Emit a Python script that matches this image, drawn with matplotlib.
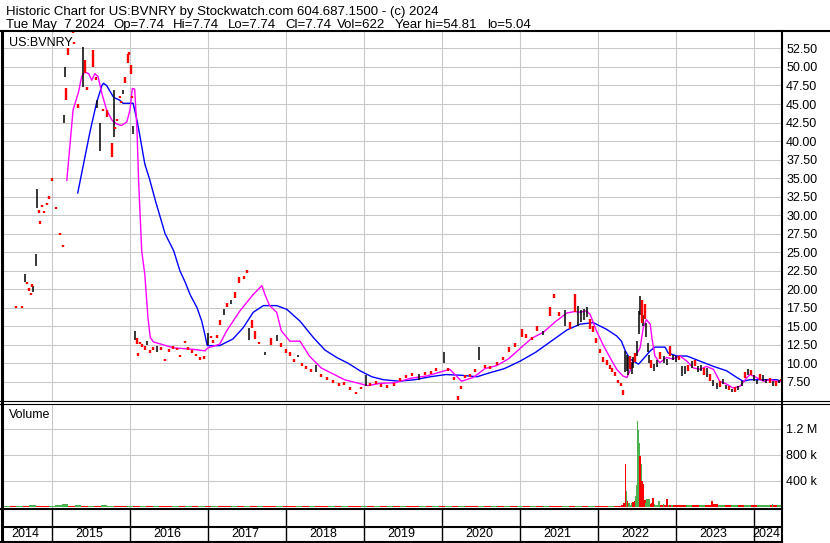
import matplotlib
matplotlib.use("Agg")
import matplotlib.pyplot as plt
from matplotlib.lines import Line2D

plt.rcParams["font.family"] = ["Liberation Sans", "DejaVu Sans"]

# ---- header text ----
title_line1 = "Historic Chart for US:BVNRY by Stockwatch.com 604.687.1500 - (c) 2024"
title_fields = ["Tue May  7 2024", "Op=7.74", "Hi=7.74", "Lo=7.74", "Cl=7.74", "Vol=622",
                "Year hi=54.81", "lo=5.04"]
title_field_px = [6, 113, 173, 228, 285, 337, 395, 487]
symbol = "US:BVNRY"

years = [2014, 2015, 2016, 2017, 2018, 2019, 2020, 2021, 2022, 2023, 2024]
x_start, x_end = 2014.359, 2024.359

price_ticks = [7.5, 10, 12.5, 15, 17.5, 20, 22.5, 25, 27.5, 30, 32.5, 35, 37.5,
               40, 42.5, 45, 47.5, 50, 52.5]
vol_ticks = [400e3, 800e3, 1.2e6]
vol_tick_labels = ["400 k", "800 k", "1.2 M"]

# ---- daily price bars (date, low, high, r = down / k = up) ----
bar_year = [2014.54, 2014.62, 2014.65, 2014.68, 2014.70, 2014.73, 2014.75, 2014.76, 2014.79, 2014.81,
            2014.83, 2014.85, 2014.87, 2014.90, 2014.93, 2014.96,
            2015.00, 2015.05, 2015.10, 2015.14, 2015.16, 2015.17, 2015.18, 2015.21, 2015.27, 2015.28,
            2015.33, 2015.40, 2015.42, 2015.45, 2015.53, 2015.57, 2015.58, 2015.62, 2015.66, 2015.70,
            2015.77, 2015.79, 2015.81, 2015.83, 2015.87, 2015.89, 2015.91, 2015.94, 2015.98, 2015.99,
            2016.01, 2016.02, 2016.04,
            2016.06, 2016.09, 2016.10, 2016.13, 2016.16, 2016.19, 2016.22, 2016.26, 2016.30, 2016.35,
            2016.40, 2016.45, 2016.50, 2016.55, 2016.60, 2016.64, 2016.70, 2016.74, 2016.80, 2016.85,
            2016.90, 2016.95,
            2017.00, 2017.04, 2017.07, 2017.11, 2017.16, 2017.20, 2017.25, 2017.30, 2017.35, 2017.40,
            2017.46, 2017.50, 2017.53, 2017.56, 2017.60, 2017.66, 2017.73, 2017.81, 2017.88, 2017.94,
            2018.00, 2018.05, 2018.10, 2018.15, 2018.20, 2018.26, 2018.32, 2018.38, 2018.45, 2018.52,
            2018.60, 2018.68, 2018.75, 2018.82, 2018.90, 2018.96,
            2019.02, 2019.08, 2019.15, 2019.22, 2019.30, 2019.38, 2019.46, 2019.54, 2019.62, 2019.70,
            2019.78, 2019.86, 2019.92,
            2020.03, 2020.08, 2020.15, 2020.20, 2020.24, 2020.30, 2020.36, 2020.42, 2020.48, 2020.55,
            2020.62, 2020.70, 2020.78, 2020.86, 2020.94,
            2021.02, 2021.08, 2021.15, 2021.22, 2021.30, 2021.38, 2021.44, 2021.50, 2021.58, 2021.64,
            2021.70, 2021.74, 2021.78, 2021.82, 2021.86, 2021.90, 2021.94, 2021.98,
            2022.03, 2022.07, 2022.11, 2022.15, 2022.18, 2022.22, 2022.26, 2022.29, 2022.32,
            2022.35, 2022.37, 2022.39, 2022.41, 2022.43, 2022.45, 2022.47, 2022.50, 2022.52, 2022.54,
            2022.56, 2022.58, 2022.60, 2022.62, 2022.64, 2022.66, 2022.68, 2022.72, 2022.76, 2022.80,
            2022.84, 2022.88, 2022.92, 2022.96,
            2023.00, 2023.04, 2023.08, 2023.12, 2023.16, 2023.20, 2023.24, 2023.28, 2023.32, 2023.36,
            2023.40, 2023.44, 2023.48, 2023.52, 2023.56, 2023.60, 2023.64, 2023.68, 2023.72, 2023.76,
            2023.80, 2023.84, 2023.88, 2023.92, 2023.96,
            2024.00, 2024.04, 2024.08, 2024.12, 2024.16, 2024.20, 2024.24, 2024.28, 2024.32, 2024.35]
bar_low = [17.6, 17.6, 21.0, 20.8, 19.8, 19.4, 20.5, 19.6, 23.2, 31.0,
           30.5, 29.0, 31.2, 30.4, 31.5, 32.4,
           34.8, 31.0, 27.5, 25.8, 42.4, 48.7, 45.5, 51.6, 54.7, 53.2,
           44.5, 47.3, 49.2, 46.9, 50.0, 48.2, 44.5, 38.7, 44.2, 43.2,
           37.8, 40.5, 41.8, 42.8, 45.9, 45.3, 46.4, 47.9, 50.5, 51.8,
           49.1, 45.9, 41.0,
           13.2, 12.6, 11.2, 12.8, 12.2, 11.8, 12.5, 11.4, 12.0, 11.6,
           11.8, 10.5, 11.5, 12.0, 11.8, 11.0, 12.9, 11.8, 11.6, 11.0,
           10.4, 10.6,
           12.5, 13.6, 12.8, 13.4, 15.2, 16.6, 17.6, 18.0, 18.8, 20.8,
           21.4, 22.3, 13.2, 14.8, 13.3, 12.6, 11.2, 12.5, 13.0, 12.2,
           11.4, 11.0, 10.2, 10.8, 9.6, 9.2, 8.8, 8.8, 8.2, 7.8,
           7.4, 7.0, 7.2, 6.4, 5.9, 6.6,
           6.9, 7.0, 7.2, 6.8, 6.8, 7.0, 7.6, 8.0, 8.4, 7.8,
           8.4, 8.6, 9.0,
           10.0, 9.0, 7.8, 5.1, 6.6, 8.0, 8.2, 8.8, 10.4, 9.4,
           9.2, 9.8, 10.4, 11.6, 12.2,
           13.6, 13.4, 13.2, 14.4, 13.8, 16.4, 18.8, 16.4, 15.0, 14.6,
           17.0, 15.0, 15.6, 15.8, 16.2, 14.6, 14.2, 12.8,
           11.4, 10.2, 9.8, 9.2, 8.8, 8.3, 7.4, 7.0, 5.8,
           8.8, 9.0, 8.5, 9.2, 8.6, 9.4, 10.2, 11.0, 14.0, 16.5,
           15.5, 15.0, 16.0, 13.5, 11.5, 10.0, 9.4, 9.0, 9.5, 10.6,
           10.0, 9.8, 11.0, 10.4,
           10.2, 10.4, 8.3, 8.6, 9.0, 9.4, 9.6, 8.8, 9.0, 8.5,
           8.2, 7.6, 7.0, 6.6, 6.8, 7.2, 6.5, 6.4, 6.1, 6.2,
           6.4, 7.0, 8.0, 8.5, 8.4,
           7.6, 7.2, 7.8, 7.6, 7.3, 7.4, 7.0, 7.0, 7.4, 7.7]
bar_high = [17.6, 17.6, 22.0, 20.8, 20.2, 19.4, 20.5, 20.4, 24.8, 33.6,
            30.5, 29.0, 31.2, 30.4, 31.5, 32.4,
            34.8, 31.0, 27.5, 25.8, 43.5, 50.0, 47.1, 52.5, 54.7, 53.2,
            45.0, 52.7, 50.9, 47.3, 52.3, 48.6, 45.5, 42.4, 44.2, 44.2,
            39.7, 46.9, 41.8, 42.8, 45.9, 45.3, 46.9, 48.6, 51.8, 51.8,
            50.2, 45.9, 42.1,
            14.4, 13.4, 11.2, 12.8, 12.6, 12.3, 13.0, 11.8, 12.0, 12.4,
            12.2, 10.5, 11.9, 12.4, 12.0, 11.0, 12.9, 12.2, 11.6, 11.2,
            10.8, 11.0,
            14.1, 13.6, 13.2, 13.9, 15.9, 17.3, 18.2, 18.6, 19.6, 21.6,
            21.8, 22.5, 14.8, 15.8, 14.4, 12.9, 11.6, 13.4, 13.8, 12.8,
            12.0, 11.6, 10.6, 11.2, 10.0, 9.6, 9.2, 9.8, 8.6, 8.2,
            7.8, 7.4, 7.4, 6.8, 6.2, 6.8,
            8.4, 7.4, 7.6, 7.2, 7.0, 7.4, 8.0, 8.4, 8.6, 8.6,
            8.8, 9.0, 9.4,
            11.6, 9.4, 8.2, 5.6, 7.0, 8.4, 8.6, 9.2, 12.2, 9.8,
            9.6, 10.2, 10.8, 12.2, 12.8,
            14.6, 14.0, 13.6, 15.0, 14.4, 17.6, 19.4, 17.0, 17.2, 15.6,
            19.3, 17.8, 17.2, 17.4, 17.6, 16.0, 15.0, 13.4,
            12.0, 10.8, 10.4, 9.8, 9.4, 8.8, 7.8, 7.4, 6.4,
            11.7, 11.2, 10.8, 11.0, 10.2, 10.8, 11.4, 13.0, 17.1, 19.1,
            18.5, 16.6, 18.0, 15.5, 12.8, 11.2, 10.4, 9.9, 10.4, 11.6,
            11.0, 10.6, 12.4, 11.2,
            11.0, 11.0, 9.6, 9.6, 9.8, 10.3, 10.4, 9.6, 9.8, 9.4,
            9.4, 8.6, 7.8, 7.4, 7.6, 7.9, 7.1, 7.0, 6.6, 6.8,
            7.0, 7.6, 8.8, 9.2, 9.1,
            8.4, 7.8, 8.6, 8.4, 7.9, 8.0, 7.6, 7.6, 7.8, 7.8]
bar_col = ("rrkrrrrkkk" "rrrrrr"
           "rrrrkkrrrr" "rkrrrrkkrr" "rkrrrrkrrr" "rrk"
           "krrrrrkrrk" "rrrrrrrrrr" "rr"
           "krrrrkrkrr" "rrkrrrkrkr" "rrrkrrrkrr" "rrrrrr"
           "krrrrrrrrk" "rrr"
           "krrrrrrrkr" "rrrrr"
           "rrrrkrrrkr" "rkkkkrrr"
           "rrrrrrrrr"
           "kkkrkkrkkk" "rkrkkkrkkr" "kkrk"
           "krkkrkrkkr" "krkkrkkrkr" "kkrkr"
           "kkrkkrkrkr")

# ---- moving averages ----
ma_fast_t = [2015.19, 2015.27, 2015.34, 2015.38, 2015.42, 2015.47, 2015.51, 2015.55, 2015.59, 2015.64,
             2015.70, 2015.77, 2015.83, 2015.89, 2015.96, 2016.00, 2016.03, 2016.06, 2016.09, 2016.11,
             2016.15, 2016.19, 2016.23, 2016.26, 2016.30, 2016.56, 2016.81, 2016.96, 2017.00, 2017.15,
             2017.24, 2017.41, 2017.58, 2017.69, 2017.73, 2017.79, 2017.88, 2017.94, 2018.05, 2018.18,
             2018.30, 2018.45, 2018.60, 2018.75, 2018.90, 2019.05, 2019.20, 2019.40, 2019.60, 2019.80,
             2020.00, 2020.10, 2020.25, 2020.40, 2020.55, 2020.70, 2020.85, 2021.00, 2021.15, 2021.30,
             2021.45, 2021.60, 2021.70, 2021.77, 2021.85, 2021.90, 2021.98, 2022.07, 2022.18, 2022.24,
             2022.32, 2022.37, 2022.41, 2022.47, 2022.54, 2022.58, 2022.62, 2022.67, 2022.69, 2022.73,
             2022.79, 2022.88, 2022.96, 2023.05, 2023.14, 2023.22, 2023.31, 2023.39, 2023.48, 2023.56,
             2023.65, 2023.73, 2023.82, 2023.91, 2023.95, 2024.03, 2024.12, 2024.21, 2024.29, 2024.35]
ma_fast_v = [34.7, 44.2, 46.6, 48.7, 49.3, 49.1, 48.2, 49.1, 48.7, 46.4,
             44.2, 42.8, 42.3, 42.1, 42.6, 44.2, 47.1, 47.0, 41.4, 34.7,
             25.2, 22.0, 16.2, 13.5, 12.9, 12.1, 11.9, 11.7, 12.1, 12.6,
             14.4, 17.1, 19.3, 20.5, 19.3, 17.8, 16.9, 14.4, 13.0, 13.0,
             11.0, 9.4, 8.6, 7.8, 7.4, 7.0, 7.3, 7.4, 8.0, 8.3,
             8.9, 9.2, 7.6, 8.1, 9.3, 9.7, 10.6, 12.0, 13.4, 14.2,
             15.6, 16.8, 17.0, 16.9, 17.1, 16.6, 14.4, 12.4, 10.3, 9.2,
             8.3, 8.1, 9.0, 10.8, 12.1, 14.8, 15.9, 15.3, 13.5, 11.0,
             10.1, 10.8, 10.6, 11.0, 10.3, 9.4, 9.2, 9.6, 9.2, 7.6,
             7.2, 6.7, 6.9, 8.1, 8.5, 8.1, 7.6, 7.8, 7.6, 7.6]

ma_slow_t = [2015.33, 2015.49, 2015.57, 2015.64, 2015.66, 2015.70, 2015.79, 2015.87, 2015.91, 2016.04,
             2016.09, 2016.13, 2016.19, 2016.25, 2016.33, 2016.45, 2016.56, 2016.64, 2016.71, 2016.77,
             2016.86, 2016.92, 2016.96, 2016.99, 2017.15, 2017.32, 2017.45, 2017.58, 2017.71, 2017.88,
             2018.01, 2018.18, 2018.35, 2018.50, 2018.65, 2018.80, 2018.95, 2019.10, 2019.25, 2019.45,
             2019.65, 2019.85, 2020.05, 2020.25, 2020.45, 2020.60, 2020.80, 2021.00, 2021.20, 2021.40,
             2021.60, 2021.77, 2021.94, 2022.11, 2022.24, 2022.30, 2022.35, 2022.41, 2022.52, 2022.58,
             2022.67, 2022.73, 2022.86, 2022.90, 2023.01, 2023.14, 2023.31, 2023.48, 2023.65, 2023.78,
             2023.86, 2023.95, 2024.12, 2024.29, 2024.35]
ma_slow_v = [33.0, 41.4, 45.1, 47.5, 47.8, 47.5, 45.9, 45.5, 45.1, 45.1,
             42.8, 40.5, 36.9, 34.9, 31.8, 27.5, 25.2, 22.5, 20.9, 19.3,
             17.5, 15.7, 13.9, 12.4, 12.4, 13.3, 14.8, 16.9, 17.8, 17.8,
             17.3, 15.7, 13.5, 11.8, 10.8, 10.0, 9.0, 8.2, 7.8, 7.6,
             7.8, 8.2, 8.5, 8.4, 8.2, 8.7, 9.3, 10.3, 11.5, 13.0,
             14.5, 15.3, 15.5, 14.6, 13.7, 13.0, 11.7, 10.6, 9.9, 10.6,
             11.7, 12.2, 12.2, 11.4, 11.0, 11.0, 10.3, 9.6, 9.0, 8.1,
             7.6, 7.8, 7.8, 7.8, 7.6]

# ---- volume: monthly background level (thousands), May 2014 .. Apr 2024 ----
vol_month_start = 2014.375
vol_month = [16, 18, 14, 17, 20, 15, 18, 17,
             22, 40, 18, 20, 17, 18, 15, 20, 18, 17, 18, 15,
             17, 15, 18, 16, 15, 17, 14, 15, 16, 15, 15, 17,
             15, 17, 18, 16, 18, 15, 17, 16, 15, 17, 15, 16,
             17, 15, 16, 15, 15, 17, 15, 15, 16, 15, 17, 15,
             15, 16, 15, 15, 17, 15, 15, 16, 15, 17, 15, 15,
             16, 17, 18, 15, 16, 15, 15, 17, 15, 16, 15, 17,
             16, 15, 17, 15, 18, 16, 15, 17, 16, 15, 17, 16,
             17, 15, 18, 20, 25, 35, 30, 25, 22, 25, 22, 25,
             26, 25, 28, 22, 25, 35, 20, 22, 25, 20, 22, 21,
             22, 25, 26, 28]
vol_month_col = ("grgrgrrg" "ggrgrgrggr" "rg" "rgrgrrgrgrgr" "grrgrgrgrrgr" "rgrgrrgrgrrg"
                 "rgrgrgrrgrgr" "grgrrgrgrgrg" "rgrgrrgrgrgr" "rgrrgrgrgrgr"
                 "rgrgrrgrgrgr" "ggrgr" "grgrgrr" "rggr")

# ---- volume: individual sessions around the 2022 spike (thousands) ----
vol_spike_t = [2022.330, 2022.355, 2022.367, 2022.380, 2022.400, 2022.430, 2022.450, 2022.470, 2022.480,
               2022.495, 2022.505, 2022.515, 2022.525, 2022.535, 2022.545, 2022.555, 2022.565, 2022.580,
               2022.600, 2022.615, 2022.630, 2022.655, 2022.675, 2022.690, 2022.705, 2022.725, 2022.745,
               2022.780, 2022.810, 2022.840, 2022.885, 2022.920, 2023.460, 2024.240]
vol_spike_v = [50, 660, 235, 92, 60, 57, 70, 82, 160,
               340, 1310, 1180, 980, 775, 620, 660, 390, 355,
               108, 60, 118, 123, 46, 60, 134, 40, 31,
               92, 31, 40, 120, 30, 92, 41]
vol_spike_col = "rrgrggrrgggggrrgrrrgggrrrggg" "rgrrrg"

RED = "#FF0000"
GREEN = "#4CB04C"
GRID = "#C8C8C8"

W, H = 830, 543
fig = plt.figure(figsize=(W / 100, H / 100), dpi=100)


def fx(px):
    return px / W


def fy(py):
    return 1 - py / H


X0, X1 = 2, 782
ax_p = fig.add_axes([fx(X0), fy(401), fx(X1 - X0), fy(31) - fy(401)])
ax_v = fig.add_axes([fx(X0), fy(509), fx(X1 - X0), fy(403.5) - fy(509)])
ax_y = fig.add_axes([fx(X0), fy(541.5), fx(X1 - X0), fy(509) - fy(541.5)])

for ax in (ax_p, ax_v, ax_y):
    ax.set_xlim(x_start, x_end)
    for s in ax.spines.values():
        s.set_visible(False)
    ax.set_xticks(years[1:])
    ax.tick_params(axis="x", length=0, labelbottom=False)

# price panel
ax_p.set_ylim(4.93, 54.85)
ax_p.set_yticks(price_ticks)
ax_p.set_yticklabels(["%.2f" % v for v in price_ticks])
ax_p.yaxis.tick_right()
ax_p.tick_params(axis="y", length=0, pad=3, labelsize=9)
ax_p.grid(True, color=GRID, linewidth=0.75)
ax_p.set_axisbelow(True)

red_t, red_lo, red_hi, blk_t, blk_lo, blk_hi = [], [], [], [], [], []
for t, lo, hi, c in zip(bar_year, bar_low, bar_high, bar_col):
    mid = (lo + hi) / 2
    lo2, hi2 = min(lo, mid - 0.15), max(hi, mid + 0.15)
    if c == "r":
        red_t.append(t); red_lo.append(lo2); red_hi.append(hi2)
    else:
        blk_t.append(t); blk_lo.append(lo2); blk_hi.append(hi2)

ax_p.plot(ma_slow_t, ma_slow_v, color="#0000FF", linewidth=1.0, zorder=3)
ax_p.plot(ma_fast_t, ma_fast_v, color="#FF00FF", linewidth=1.0, zorder=3)
ax_p.vlines(blk_t, blk_lo, blk_hi, color="black", linewidth=1.1, zorder=4)
ax_p.vlines(red_t, red_lo, red_hi, color=RED, linewidth=1.7, zorder=4)

# volume panel
ax_v.set_ylim(-35e3, 1.585e6)
ax_v.set_yticks(vol_ticks)
ax_v.set_yticklabels(vol_tick_labels)
ax_v.yaxis.tick_right()
ax_v.tick_params(axis="y", length=0, pad=3, labelsize=9)
ax_v.grid(True, color=GRID, linewidth=0.75)
ax_v.set_axisbelow(True)

m_t = [vol_month_start + i / 12 + 1 / 24 for i in range(len(vol_month))]
m_c = [GREEN if c == "g" else RED for c in vol_month_col]
ax_v.bar(m_t, [v * 1000 for v in vol_month], width=1 / 12, color=m_c, linewidth=0, zorder=2)
s_c = [GREEN if c == "g" else RED for c in vol_spike_col]
ax_v.bar(vol_spike_t, [v * 1000 for v in vol_spike_v], width=0.02, color=s_c, linewidth=0, zorder=3)

# year rows
ax_y.set_ylim(0, 1)
ax_y.set_yticks([])
mid_frac = (541.5 - 526.5) / (541.5 - 509)
ax_y.vlines(years[1:], 0, 1, color="black", linewidth=1.0)
ax_y.axhline(mid_frac, color="black", linewidth=1.5)
edges = [x_start] + years[1:] + [x_end]
for i, yr in enumerate(years):
    ax_y.text((edges[i] + edges[i + 1]) / 2 - 0.025, mid_frac / 2, str(yr), ha="center",
              va="center", fontsize=9)

# frame lines in pixel coordinates
def hline(py, px0, px1, lw):
    fig.add_artist(Line2D([fx(px0), fx(px1)], [fy(py), fy(py)], color="black", linewidth=lw))


def vline(px, py0, py1, lw):
    fig.add_artist(Line2D([fx(px), fx(px)], [fy(py0), fy(py1)], color="black", linewidth=lw))


hline(31, 0, 830, 1.5)
hline(401, 0, 830, 0.8)
hline(403.5, 0, 830, 0.8)
hline(509, 0, 782, 1.5)
hline(541.5, 0, 782, 1.5)
vline(1.5, 31, 543, 2.2)
vline(782, 31, 543, 1.5)

# texts
fig.text(fx(6), fy(15), title_line1, fontsize=9.5, va="baseline", ha="left")
for txt, px in zip(title_fields, title_field_px):
    fig.text(fx(px), fy(28), txt, fontsize=9.5, va="baseline", ha="left")
fig.text(fx(9), fy(45.5), symbol, fontsize=9, va="baseline", ha="left")
fig.text(fx(9), fy(418), "Volume", fontsize=9, va="baseline", ha="left")

fig.savefig("out.png", dpi=100)
